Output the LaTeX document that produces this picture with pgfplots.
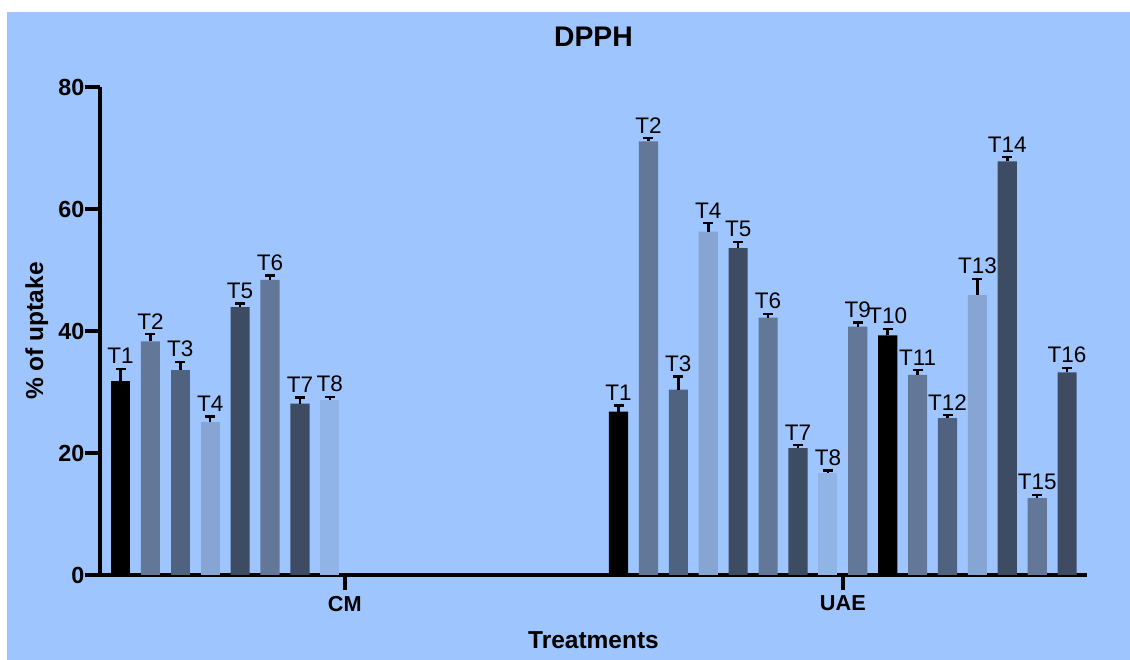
\documentclass[border=0pt]{standalone}
\usepackage{pgfplots}
\pgfplotsset{compat=1.18}
\usepackage{pgfplotstable}
\usepackage{fontspec}
\setmainfont{Liberation Sans}

\definecolor{bg}{HTML}{9FC5FE}
\definecolor{c1}{HTML}{000000}
\definecolor{c2}{HTML}{637899}
\definecolor{c3}{HTML}{4F6280}
\definecolor{c4}{HTML}{86A5D3}
\definecolor{c5}{HTML}{3D4B63}
\definecolor{c6}{HTML}{91B4E6}

\pgfplotstableread{
x y e lab c
1 31.8 2.0 T1 1
2 38.3 1.2 T2 2
3 33.6 1.3 T3 3
4 25.0 1.0 T4 4
5 43.9 0.6 T5 5
6 48.4 0.7 T6 2
7 28.1 1.0 T7 5
8 28.7 0.5 T8 6
}\cmdata

\pgfplotstableread{
x y e lab c
17.655 26.8 1.0 T1 1
18.655 71.1 0.5 T2 2
19.655 30.4 2.1 T3 3
20.655 56.3 1.4 T4 4
21.655 53.6 1.0 T5 5
22.655 42.2 0.6 T6 2
23.655 20.8 0.5 T7 5
24.655 16.7 0.4 T8 6
25.655 40.7 0.7 T9 2
26.655 39.3 1.0 T10 1
27.655 32.8 0.8 T11 2
28.655 25.7 0.5 T12 3
29.655 45.9 2.6 T13 4
30.655 67.8 0.7 T14 5
31.655 12.6 0.5 T15 2
32.655 33.2 0.7 T16 5
}\uaedata

\pgfplotsset{
  mybar/.style={
    draw=none,
    restrict expr to domain={\thisrow{c}}{#1:#1},
    fill=c#1,
    nodes near coords=\pgfplotspointmeta,
    point meta=explicit symbolic,
    visualization depends on={\thisrow{e}*3.66+2.8 \as \eshift},
    every node near coord/.append style={font=\fontsize{13.5}{14}\selectfont, anchor=south, inner sep=0pt, yshift=\eshift pt, text=black},
  },
  myerr/.style={
    error bars/.cd, y dir=plus, y explicit,
    error mark=|,
    error bar style={line width=1.5pt, black},
    error mark options={line width=1.5pt, black, mark size=3pt},
  },
}

\begin{document}
\begin{tikzpicture}
\useasboundingbox[fill=white] (-60pt,-51pt) rectangle (618pt,345pt);
\fill[bg] (-55.8pt,-51pt) rectangle (618pt,337.8pt);
\begin{axis}[
  at={(0,0)}, anchor=south west,
  scale only axis, width=592.2pt, height=292.8pt,
  xmin=0.314, xmax=33.32, ymin=0, ymax=80,
  axis lines=left, axis line style={line width=2.6pt,-},
  tick align=outside, major tick length=9pt,
  tick style={line width=2.2pt, black},
  xtick={8.5,25.155}, xticklabels={CM,UAE},
  ytick={0,20,40,60,80},
  /pgf/number format/assume math mode=true,
  yticklabel style={font=\bfseries\fontsize{14}{14}\selectfont, xshift=3.2pt},
  xticklabel style={font=\bfseries\fontsize{13}{13}\selectfont},
  ybar, bar width=0.64, bar shift=0pt,
  clip=false,
  title={DPPH},
  title style={at={(axis description cs:0.5,1.0615)}, anchor=base, font=\bfseries\fontsize{17}{18}\selectfont},
  xlabel={Treatments},
  xlabel style={at={(axis description cs:0.5,-0.1516)}, anchor=base, font=\bfseries\fontsize{14.7}{16}\selectfont},
  ylabel={\% of uptake},
  ylabel style={at={(axis description cs:-0.0577,0.5)}, anchor=base, font=\bfseries\fontsize{14.7}{16}\selectfont},
]
\pgfplotsinvokeforeach{1,2,3,4,5,6}{
  \addplot[mybar=#1, myerr] table[x=x, y=y, y error=e, meta=lab] {\cmdata};
  \addplot[mybar=#1, myerr] table[x=x, y=y, y error=e, meta=lab] {\uaedata};
}
\end{axis}
\end{tikzpicture}
\end{document}
